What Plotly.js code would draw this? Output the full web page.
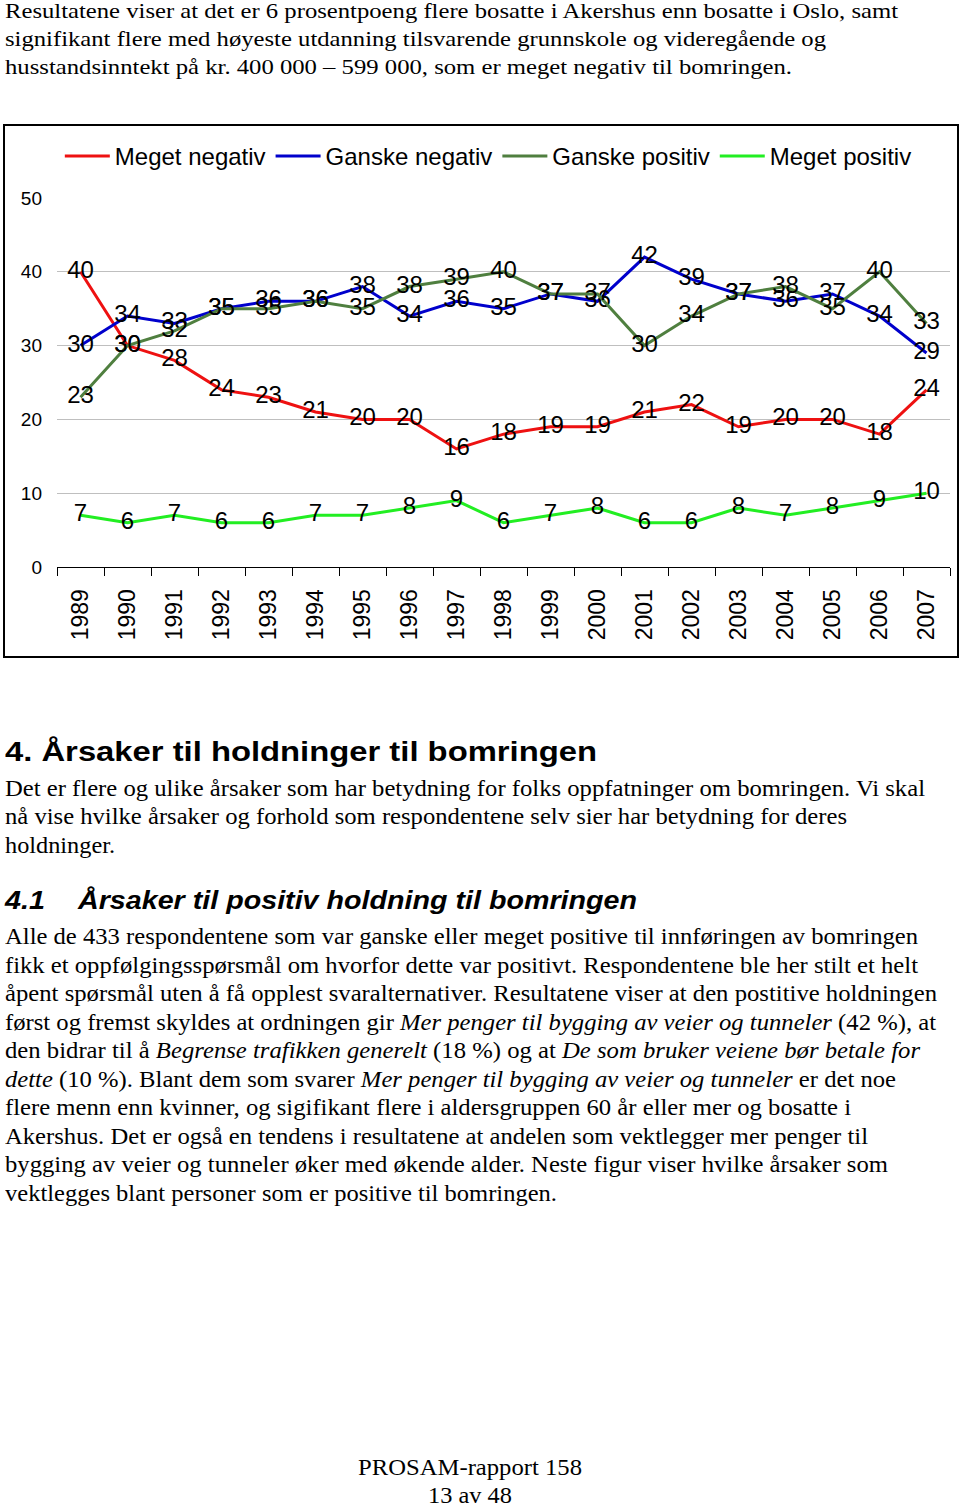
<!DOCTYPE html>
<html>
<head>
<meta charset="utf-8">
<script src="https://cdn.plot.ly/plotly-3.0.1.min.js"></script>
<style>
  html, body { margin:0; padding:0; background:#fff; }
  body { width:960px; height:1505px; position:relative; overflow:hidden; }
  .ln { position:absolute; left:5px; white-space:nowrap; transform-origin:0 0; color:#000; }
  .serif { font-family:"Liberation Serif","Times New Roman",serif; font-size:21px; line-height:28px; }
  .para { font-family:"Liberation Serif","Times New Roman",serif; font-size:23px; line-height:28px; }
  .h1 { font-family:"Liberation Sans",Arial,sans-serif; font-weight:bold; font-size:28px; line-height:34px; }
  .h2 { font-family:"Liberation Sans",Arial,sans-serif; font-weight:bold; font-style:italic; font-size:25px; line-height:32px; }
  .foot { font-family:"Liberation Serif","Times New Roman",serif; font-size:24px; line-height:28px; }
  #box { position:absolute; left:3px; top:124px; width:952px; height:530px; border:2px solid #000; }
  #chart { position:absolute; left:0; top:0; width:952px; height:530px; }
</style>
</head>
<body>
<div class="ln serif" style="top:-3px" data-w="893">Resultatene viser at det er 6 prosentpoeng flere bosatte i Akershus enn bosatte i Oslo, samt</div>
<div class="ln serif" style="top:25px" data-w="821">signifikant flere med høyeste utdanning tilsvarende grunnskole og videregående og</div>
<div class="ln serif" style="top:53px" data-w="787">husstandsinntekt på kr. 400 000 – 599 000, som er meget negativ til bomringen.</div>

<div id="box"><div id="chart"></div></div>

<div class="ln h1" style="top:735px" data-w="592">4. Årsaker til holdninger til bomringen</div>
<div class="ln para" style="top:775px" data-w="920">Det er flere og ulike årsaker som har betydning for folks oppfatninger om bomringen. Vi skal</div>
<div class="ln para" style="top:803px" data-w="842">nå vise hvilke årsaker og forhold som respondentene selv sier har betydning for deres</div>
<div class="ln para" style="top:832px" data-w="110">holdninger.</div>

<div class="ln h2" style="top:884px" data-w="40">4.1</div>
<div class="ln h2" style="top:884px; left:78px" data-w="559">Årsaker til positiv holdning til bomringen</div>
<div class="ln para" style="top:923px" data-w="913">Alle de 433 respondentene som var ganske eller meget positive til innføringen av bomringen</div>
<div class="ln para" style="top:952px" data-w="913">fikk et oppfølgingsspørsmål om hvorfor dette var positivt. Respondentene ble her stilt et helt</div>
<div class="ln para" style="top:980px" data-w="932">åpent spørsmål uten å få opplest svaralternativer. Resultatene viser at den postitive holdningen</div>
<div class="ln para" style="top:1009px" data-w="931">først og fremst skyldes at ordningen gir <i>Mer penger til bygging av veier og tunneler</i> (42 %), at</div>
<div class="ln para" style="top:1037px" data-w="915">den bidrar til å <i>Begrense trafikken generelt</i> (18 %) og at <i>De som bruker veiene bør betale for</i></div>
<div class="ln para" style="top:1066px" data-w="891"><i>dette</i> (10 %). Blant dem som svarer <i>Mer penger til bygging av veier og tunneler</i> er det noe</div>
<div class="ln para" style="top:1094px" data-w="846">flere menn enn kvinner, og sigifikant flere i aldersgruppen 60 år eller mer og bosatte i</div>
<div class="ln para" style="top:1123px" data-w="863">Akershus. Det er også en tendens i resultatene at andelen som vektlegger mer penger til</div>
<div class="ln para" style="top:1151px" data-w="883">bygging av veier og tunneler øker med økende alder. Neste figur viser hvilke årsaker som</div>
<div class="ln para" style="top:1180px" data-w="552">vektlegges blant personer som er positive til bomringen.</div>

<div class="ln foot" style="top:1453px; left:358px" data-w="224">PROSAM-rapport 158</div>
<div class="ln foot" style="top:1481px; left:428px" data-w="84">13 av 48</div>

<script>
const years = ["1989","1990","1991","1992","1993","1994","1995","1996","1997","1998","1999","2000","2001","2002","2003","2004","2005","2006","2007"];
const megetNegativ  = [40, 30, 28, 24, 23, 21, 20, 20, 16, 18, 19, 19, 21, 22, 19, 20, 20, 18, 24];
const ganskeNegativ = [30, 34, 33, 35, 36, 36, 38, 34, 36, 35, 37, 36, 42, 39, 37, 36, 37, 34, 29];
const ganskePositiv = [23, 30, 32, 35, 35, 36, 35, 38, 39, 40, 37, 37, 30, 34, 37, 38, 35, 40, 33];
const megetPositiv  = [7, 6, 7, 6, 6, 7, 7, 8, 9, 6, 7, 8, 6, 6, 8, 7, 8, 9, 10];
const seriesNames = ["Meget negativ", "Ganske negativ", "Ganske positiv", "Meget positiv"];
const seriesColors = ["#EE1111", "#0000CC", "#4F7F3F", "#22EE22"];

const SANS = '"Liberation Sans", Arial, sans-serif';
const allSeries = [megetNegativ, ganskeNegativ, ganskePositiv, megetPositiv];
const traces = allSeries.map((vals, i) => ({
  type: 'scatter',
  mode: 'lines+text',
  name: seriesNames[i],
  x: years,
  y: vals,
  text: vals.map(String),
  textposition: 'middle center',
  textfont: {family: SANS, size: 24, color: '#000'},
  line: {color: seriesColors[i], width: 3},
  cliponaxis: false,
  hoverinfo: 'skip'
}));

const layout = {
  width: 952, height: 530,
  margin: {l: 52, r: 7, t: 72, b: 89},
  paper_bgcolor: '#fff', plot_bgcolor: '#fff',
  font: {family: SANS, color: '#000'},
  showlegend: true,
  legend: {
    orientation: 'h', x: 0.483, xanchor: 'center', y: 1.113, yanchor: 'middle',
    font: {family: SANS, size: 24, color: '#000'},
    itemwidth: 45, bgcolor: 'rgba(0,0,0,0)', traceorder: 'normal'
  },
  xaxis: {
    type: 'category',
    range: [-0.5, years.length - 0.5],
    autorange: false,
    tickangle: -90,
    tickfont: {family: SANS, size: 23, color: '#000'},
    ticks: 'outside', tickson: 'boundaries', ticklen: 8, tickcolor: '#000', tickwidth: 1,
    showline: true, linecolor: '#000', linewidth: 1,
    showgrid: false, zeroline: false,
    ticklabelstandoff: 12
  },
  yaxis: {
    range: [0, 50], dtick: 10, tick0: 0, autorange: false,
    showgrid: true, gridcolor: '#BFBFBF', gridwidth: 1,
    zeroline: false, showline: false, ticks: '',
    tickfont: {family: SANS, size: 19, color: '#000'},
    ticklabelstandoff: 14
  }
};

Plotly.newPlot('chart', traces, layout, {displayModeBar: false, staticPlot: true});

function fitLines() {
  document.querySelectorAll('[data-w]').forEach(el => {
    el.style.transform = 'none';
    const w = el.getBoundingClientRect().width;
    const target = parseFloat(el.getAttribute('data-w'));
    if (w > 0) el.style.transform = 'scaleX(' + (target / w) + ')';
  });
}
fitLines();
if (document.fonts && document.fonts.ready) document.fonts.ready.then(fitLines);
</script>
</body>
</html>
